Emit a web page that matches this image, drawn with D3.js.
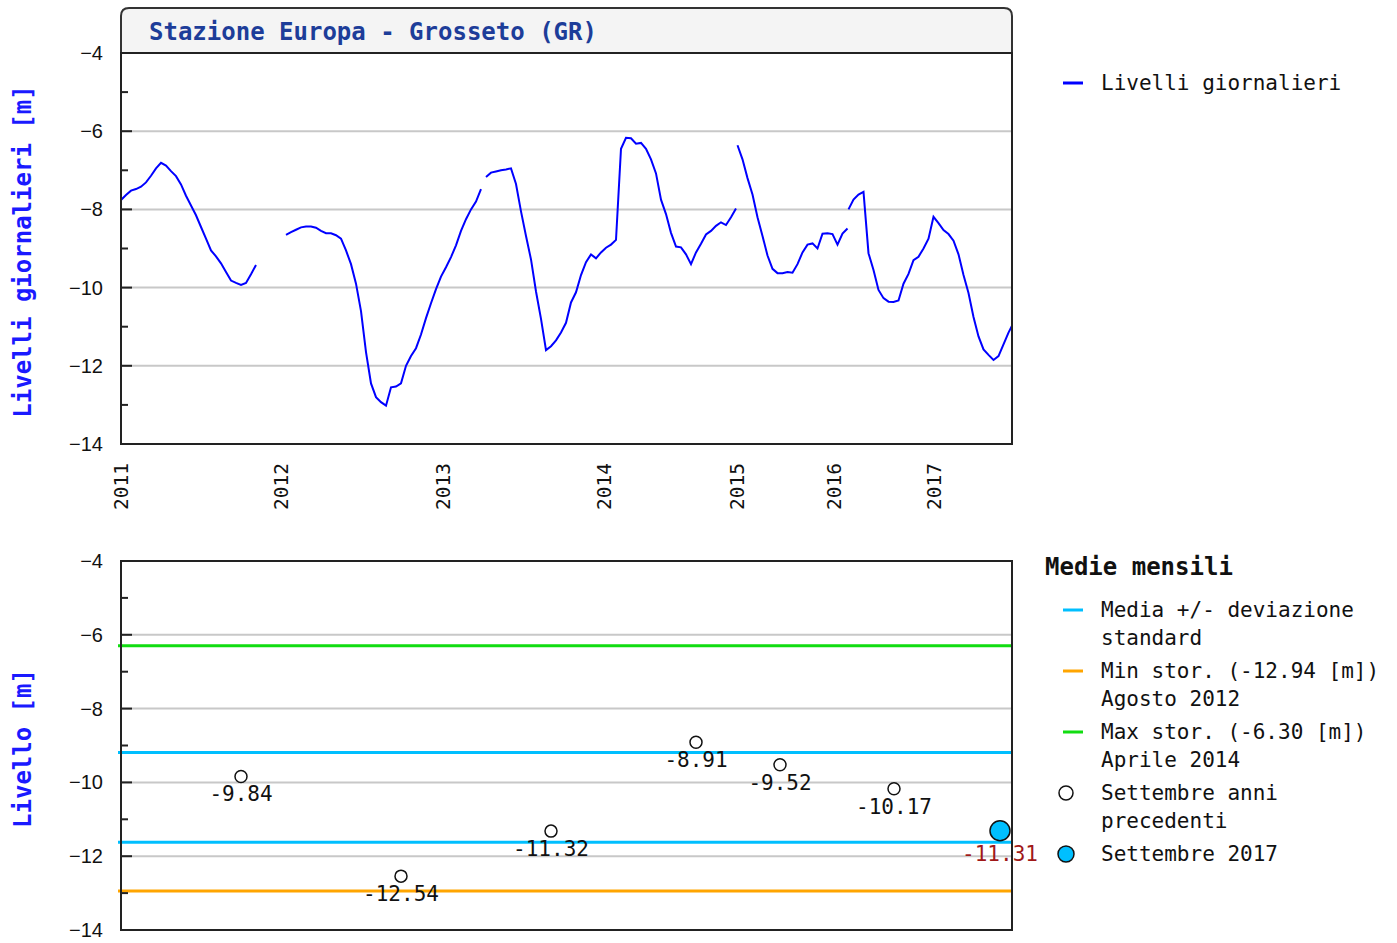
<!DOCTYPE html>
<html lang="it">
<head>
<meta charset="UTF-8">
<title>Stazione Europa - Grosseto (GR)</title>
<script src="https://d3js.org/d3.v7.min.js"></script>
<style>
  body { margin: 0; background: #fff; }
  svg { display: block; }
  .tick text { font-family: 'Liberation Sans', Arial, sans-serif; font-size: 20px; fill: #111; }
</style>
</head>
<body>
<div id="chart"></div>
<script>
// asse x: indice progressivo delle misure (passo costante), anni sull'asse
const anni = ['2011', '2012', '2013', '2014', '2015', '2016', '2017'];
const anniIndice = [0, 32, 64.4, 96.6, 123.2, 142.6, 162.6];
const indiceFine = 178.2;

// livelli giornalieri [m], a tratti (inizio = indice del primo valore)
const inizioTratti = [0, 33, 73, 123.3, 145.5];
const tratto1 = [-7.76, -7.63, -7.52, -7.48, -7.42, -7.31, -7.14, -6.95, -6.81, -6.88,
  -7.02, -7.15, -7.36, -7.65, -7.90, -8.15, -8.45, -8.75, -9.05, -9.20,
  -9.38, -9.60, -9.82, -9.88, -9.93, -9.88, -9.66, -9.42];
const tratto2 = [-8.65, -8.58, -8.52, -8.46, -8.44, -8.44, -8.47, -8.55, -8.61, -8.61,
  -8.66, -8.75, -9.05, -9.40, -9.90, -10.60, -11.65, -12.45, -12.80, -12.93,
  -13.02, -12.55, -12.53, -12.45, -12.00, -11.75, -11.55, -11.20, -10.78, -10.40,
  -10.04, -9.72, -9.48, -9.22, -8.92, -8.55, -8.25, -8.00, -7.80, -7.48];
const tratto3 = [-7.17, -7.06, -7.03, -7.00, -6.98, -6.95, -7.35, -8.05, -8.68, -9.28,
  -10.10, -10.80, -11.60, -11.50, -11.35, -11.15, -10.90, -10.38, -10.12, -9.68,
  -9.35, -9.15, -9.25, -9.10, -8.98, -8.90, -8.78, -6.45, -6.17, -6.18,
  -6.32, -6.30, -6.45, -6.72, -7.08, -7.75, -8.12, -8.60, -8.95, -8.97,
  -9.15, -9.40, -9.10, -8.88, -8.64, -8.55, -8.42, -8.33, -8.40, -8.20, -7.98];
const tratto4 = [-6.36, -6.72, -7.20, -7.62, -8.20, -8.68, -9.18, -9.52, -9.63, -9.63,
  -9.60, -9.62, -9.40, -9.10, -8.90, -8.87, -9.00, -8.62, -8.61, -8.63, -8.90, -8.62, -8.49];
const tratto5 = [-8.00, -7.75, -7.62, -7.55, -9.12, -9.55, -10.06, -10.27, -10.36, -10.37,
  -10.33, -9.90, -9.65, -9.30, -9.21, -9.00, -8.75, -8.19, -8.35, -8.53,
  -8.63, -8.80, -9.15, -9.68, -10.14, -10.75, -11.25, -11.58, -11.72, -11.85,
  -11.75, -11.45, -11.15, -10.90];
const tratti = [tratto1, tratto2, tratto3, tratto4, tratto5];

// medie mensili di settembre
const settembreIndice = [24, 56, 86, 115, 131.8, 154.6];
const settembreValori = [-9.84, -12.54, -11.32, -8.91, -9.52, -10.17];
const settembreCorrente = { indice: 175.8, valore: -11.31 };
const media = -10.405;
const devStd = 1.215;
const minStorico = -12.94;
const maxStorico = -6.30;

const W = 1397, H = 943;
const left = 121, right = 1012;
const mono = "'DejaVu Sans Mono', 'Liberation Mono', monospace";

const svg = d3.select('#chart').append('svg').attr('width', W).attr('height', H);

const x = d3.scaleLinear().domain([0, indiceFine]).range([left, right]);
const yTop = d3.scaleLinear().domain([-14, -4]).range([444, 53]);
const yBot = d3.scaleLinear().domain([-14, -4]).range([930, 561]);

const major = d3.range(-14, -3, 2);
const minor = d3.range(-13, -4, 2);

function griglia(g, y) {
  g.selectAll('line.grid').data(major.filter(v => v > -14 && v < -4)).enter()
    .append('line').attr('class', 'grid')
    .attr('x1', left).attr('x2', right)
    .attr('y1', d => y(d)).attr('y2', d => y(d))
    .attr('stroke', '#c8c8c8').attr('stroke-width', 2);
}

function assi(g, y) {
  g.append('g').attr('transform', `translate(${left},0)`)
    .call(d3.axisLeft(y).tickValues(major).tickSize(0).tickPadding(18))
    .call(a => a.select('.domain').remove());
  g.selectAll('line.maj').data(major).enter().append('line')
    .attr('x1', left).attr('x2', left + 11)
    .attr('y1', d => y(d)).attr('y2', d => y(d))
    .attr('stroke', '#222').attr('stroke-width', 2);
  g.selectAll('line.min').data(minor).enter().append('line')
    .attr('x1', left).attr('x2', left + 7)
    .attr('y1', d => y(d)).attr('y2', d => y(d))
    .attr('stroke', '#222').attr('stroke-width', 2);
}

// ---------- grafico superiore ----------
const gTop = svg.append('g');
gTop.append('path')
  .attr('d', `M${left},53 V16 Q${left},8 ${left + 8},8 H${right - 8} Q${right},8 ${right},16 V53 Z`)
  .attr('fill', '#f4f4f4').attr('stroke', '#333').attr('stroke-width', 2);
gTop.append('text')
  .attr('x', 149).attr('y', 40)
  .attr('font-family', mono).attr('font-weight', 'bold').attr('font-size', 24)
  .attr('fill', '#1d3d99')
  .text('Stazione Europa - Grosseto (GR)');

griglia(gTop, yTop);

svg.append('clipPath').attr('id', 'clipTop').append('rect')
  .attr('x', left).attr('y', 53).attr('width', right - left).attr('height', 391);

const line = d3.line().x(d => x(d[0])).y(d => yTop(d[1]));
gTop.append('g').attr('clip-path', 'url(#clipTop)')
  .selectAll('path').data(tratti.map((t, i) => t.map((v, j) => [inizioTratti[i] + j, v])))
  .enter().append('path')
  .attr('d', line)
  .attr('fill', 'none').attr('stroke', '#0000ff').attr('stroke-width', 2);

gTop.append('rect').attr('x', left).attr('y', 53).attr('width', right - left).attr('height', 391)
  .attr('fill', 'none').attr('stroke', '#222').attr('stroke-width', 2);
assi(gTop, yTop);

gTop.selectAll('text.anno').data(anni).enter().append('text')
  .attr('class', 'anno')
  .attr('transform', (d, i) => `translate(${x(anniIndice[i])},463) rotate(-90)`)
  .attr('text-anchor', 'end').attr('dy', '0.35em')
  .attr('font-family', mono).attr('font-size', 19.5).attr('fill', '#111')
  .text(d => d);

svg.append('text')
  .attr('transform', `translate(31,${(53 + 444) / 2 + 3}) rotate(-90)`)
  .attr('text-anchor', 'middle')
  .attr('font-family', mono).attr('font-weight', 'bold').attr('font-size', 24)
  .attr('fill', '#1a1aff')
  .text('Livelli giornalieri [m]');

// legenda superiore
const legTop = svg.append('g').attr('font-family', mono).attr('font-size', 21).attr('fill', '#111');
legTop.append('line').attr('x1', 1063).attr('x2', 1083).attr('y1', 83).attr('y2', 83)
  .attr('stroke', '#0000ff').attr('stroke-width', 3);
legTop.append('text').attr('x', 1101).attr('y', 90).text('Livelli giornalieri');

// ---------- grafico inferiore ----------
const gBot = svg.append('g');
griglia(gBot, yBot);

const orizzontali = [
  { v: maxStorico, c: '#11dd11' },
  { v: media + devStd, c: '#00bfff' },
  { v: media - devStd, c: '#00bfff' },
  { v: minStorico, c: '#ffa500' }
];
gBot.selectAll('line.rif').data(orizzontali).enter().append('line')
  .attr('x1', left - 3).attr('x2', right)
  .attr('y1', d => yBot(d.v)).attr('y2', d => yBot(d.v))
  .attr('stroke', d => d.c).attr('stroke-width', 3);

gBot.append('rect').attr('x', left).attr('y', 561).attr('width', right - left).attr('height', 369)
  .attr('fill', 'none').attr('stroke', '#222').attr('stroke-width', 2);
assi(gBot, yBot);

const punti = settembreValori.map((v, i) => ({ i: settembreIndice[i], v }));
gBot.selectAll('circle.prec').data(punti).enter().append('circle')
  .attr('cx', d => x(d.i)).attr('cy', d => yBot(d.v)).attr('r', 6)
  .attr('fill', '#fff').attr('stroke', '#111').attr('stroke-width', 1.5);
gBot.selectAll('text.prec').data(punti).enter().append('text')
  .attr('x', d => x(d.i)).attr('y', d => yBot(d.v) + 25)
  .attr('text-anchor', 'middle')
  .attr('font-family', mono).attr('font-size', 21).attr('fill', '#111')
  .text(d => d.v.toFixed(2));

gBot.append('circle')
  .attr('cx', x(settembreCorrente.indice)).attr('cy', yBot(settembreCorrente.valore)).attr('r', 10)
  .attr('fill', '#00bfff').attr('stroke', '#111').attr('stroke-width', 1.5);
gBot.append('text')
  .attr('x', x(settembreCorrente.indice)).attr('y', yBot(settembreCorrente.valore) + 30)
  .attr('text-anchor', 'middle')
  .attr('font-family', mono).attr('font-size', 21).attr('fill', '#a01818')
  .text(settembreCorrente.valore.toFixed(2));

svg.append('text')
  .attr('transform', `translate(31,${(561 + 930) / 2 + 3}) rotate(-90)`)
  .attr('text-anchor', 'middle')
  .attr('font-family', mono).attr('font-weight', 'bold').attr('font-size', 24)
  .attr('fill', '#1a1aff')
  .text('Livello [m]');

// legenda inferiore
const legBot = svg.append('g').attr('font-family', mono).attr('font-size', 21).attr('fill', '#111');
legBot.append('text').attr('x', 1045).attr('y', 575)
  .attr('font-weight', 'bold').attr('font-size', 24).text('Medie mensili');

const voci = [
  { tipo: 'linea', c: '#00bfff', righe: ['Media +/- deviazione', 'standard'] },
  { tipo: 'linea', c: '#ffa500', righe: [`Min stor. (${minStorico.toFixed(2)} [m])`, 'Agosto 2012'] },
  { tipo: 'linea', c: '#11dd11', righe: [`Max stor. (${maxStorico.toFixed(2)} [m])`, 'Aprile 2014'] },
  { tipo: 'vuoto', righe: ['Settembre anni', 'precedenti'] },
  { tipo: 'pieno', righe: ['Settembre 2017'] }
];
let yy = 610;
voci.forEach(v => {
  if (v.tipo === 'linea') {
    legBot.append('line').attr('x1', 1063).attr('x2', 1083).attr('y1', yy).attr('y2', yy)
      .attr('stroke', v.c).attr('stroke-width', 3);
  } else {
    legBot.append('circle').attr('cx', 1066).attr('cy', yy).attr('r', v.tipo === 'pieno' ? 8 : 7)
      .attr('fill', v.tipo === 'pieno' ? '#00bfff' : '#fff')
      .attr('stroke', '#111').attr('stroke-width', 1.5);
  }
  v.righe.forEach((r, k) => {
    legBot.append('text').attr('x', 1101).attr('y', yy + 7 + k * 28).text(r);
  });
  yy += 61;
});
</script>
</body>
</html>
